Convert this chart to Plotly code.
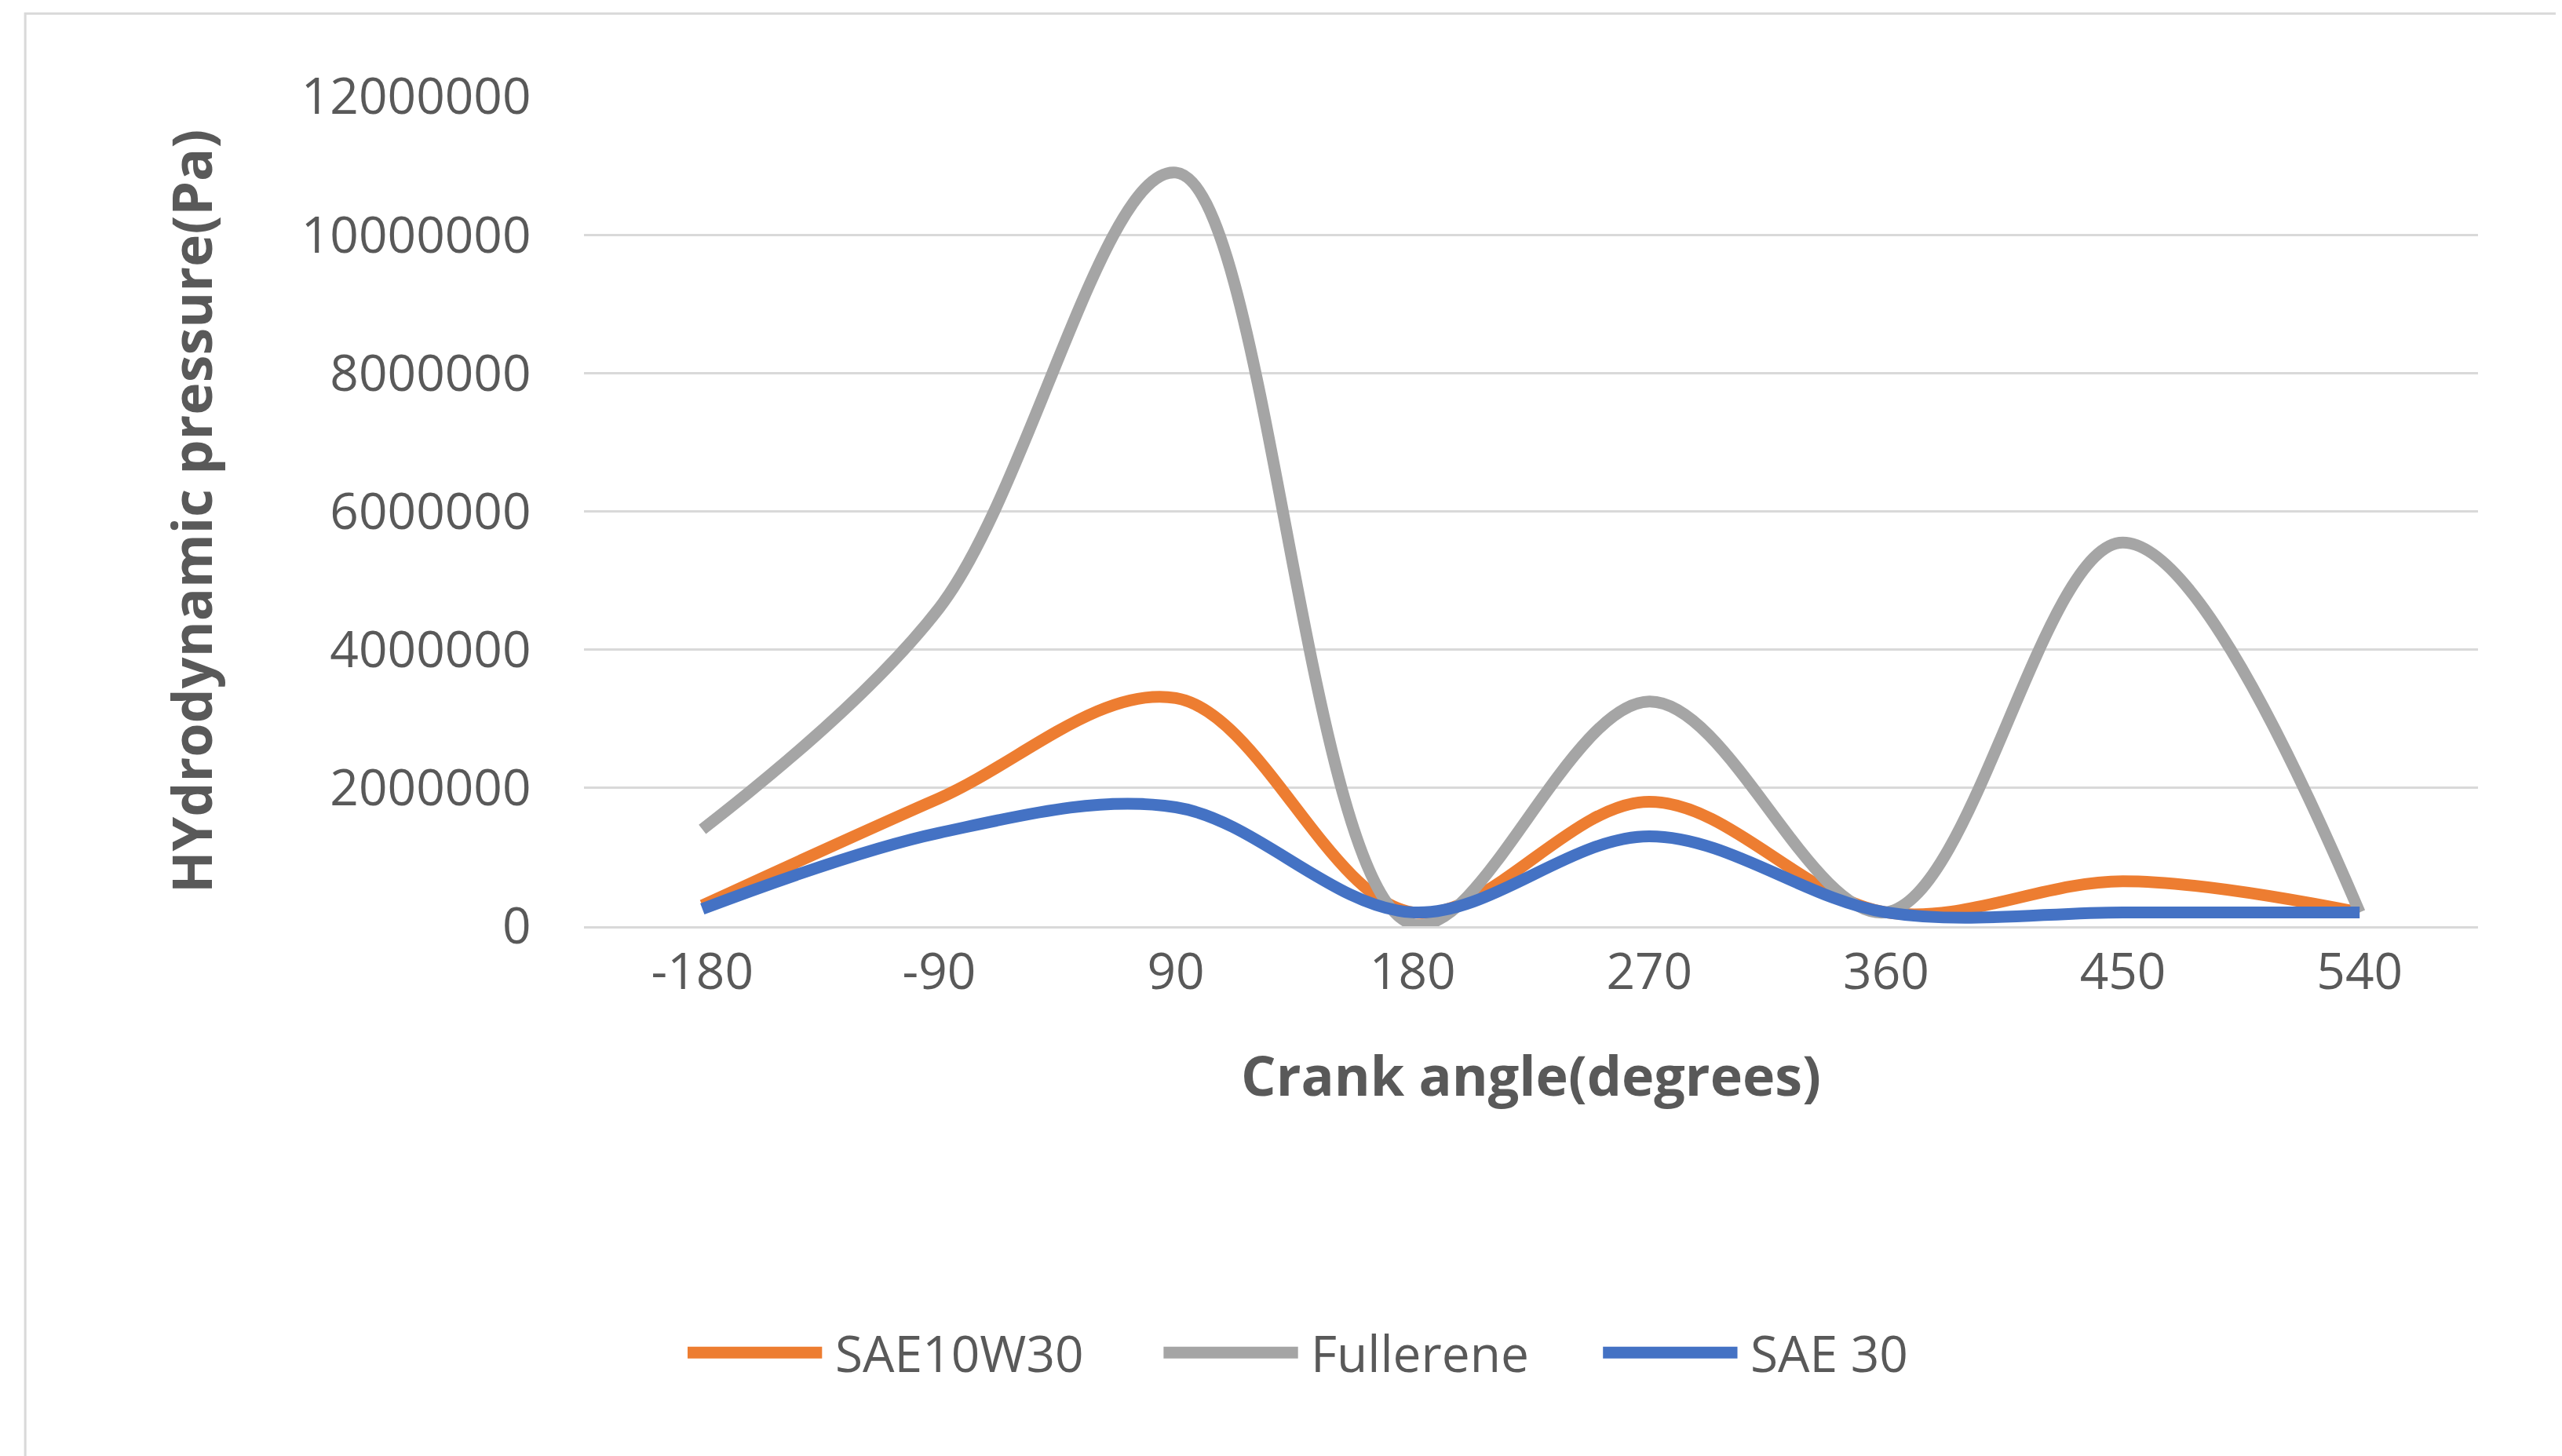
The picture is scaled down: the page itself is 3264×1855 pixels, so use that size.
import plotly.graph_objects as go

crank_angle = ["-180", "-90", "90", "180", "270", "360", "450", "540"]
sae10w30 = [300000, 1850000, 3300000, 200000, 1800000, 200000, 650000, 200000]
fullerene = [1400000, 4600000, 10900000, 30000, 3250000, 200000, 5550000, 200000]
sae30 = [250000, 1350000, 1720000, 200000, 1300000, 200000, 200000, 200000]

series = [("SAE10W30", sae10w30, "#ED7D31"),
          ("Fullerene", fullerene, "#A5A5A5"),
          ("SAE 30", sae30, "#4472C4")]
# legend slot start (paper x) for each series
legend_x = [0.0547, 0.306, 0.538]

fig = go.Figure()
for name, vals, color in series:
    fig.add_trace(go.Scatter(x=crank_angle, y=vals, name=name, mode="lines", showlegend=False,
                             line=dict(color=color, width=15, shape="spline", smoothing=1)))

# hand-drawn legend so the line samples are long like the original
ly = -0.514
for (name, vals, color), x0 in zip(series, legend_x):
    fig.add_shape(type="line", xref="paper", yref="paper", x0=x0, x1=x0 + 0.071, y0=ly, y1=ly,
                  line=dict(color=color, width=15))
    fig.add_annotation(xref="paper", yref="paper", x=x0 + 0.077, y=ly, text=name,
                       showarrow=False, xanchor="left", yanchor="middle",
                       font=dict(size=64, color="#595959"))

fig.update_layout(
    width=3264, height=1855,
    paper_bgcolor="white", plot_bgcolor="white",
    margin=dict(l=736, r=115, t=115, b=683),
    font=dict(family="Open Sans", size=64, color="#595959"),
)
fig.update_xaxes(type="category", range=[-0.5, 7.5], showgrid=False, showline=True,
                 linecolor="#D9D9D9", linewidth=3, ticks="",
                 title=dict(text="<b>Crank angle(degrees)</b>", font=dict(size=70, color="#595959"),
                            standoff=70))
fig.update_yaxes(range=[0, 12000000], dtick=2000000, tickformat="d", showgrid=True,
                 gridcolor="#D9D9D9", gridwidth=3, zeroline=False, showline=False,
                 ticksuffix="    ",
                 title=dict(text="<b>HYdrodynamic pressure(Pa)</b>", font=dict(size=70, color="#595959"),
                            standoff=90))
fig.add_shape(type="rect", xref="paper", yref="paper", x0=-0.295, x1=1.043, y0=-0.7, y1=1.1,
              line=dict(color="#D9D9D9", width=3))
fig.write_html("out.html")
